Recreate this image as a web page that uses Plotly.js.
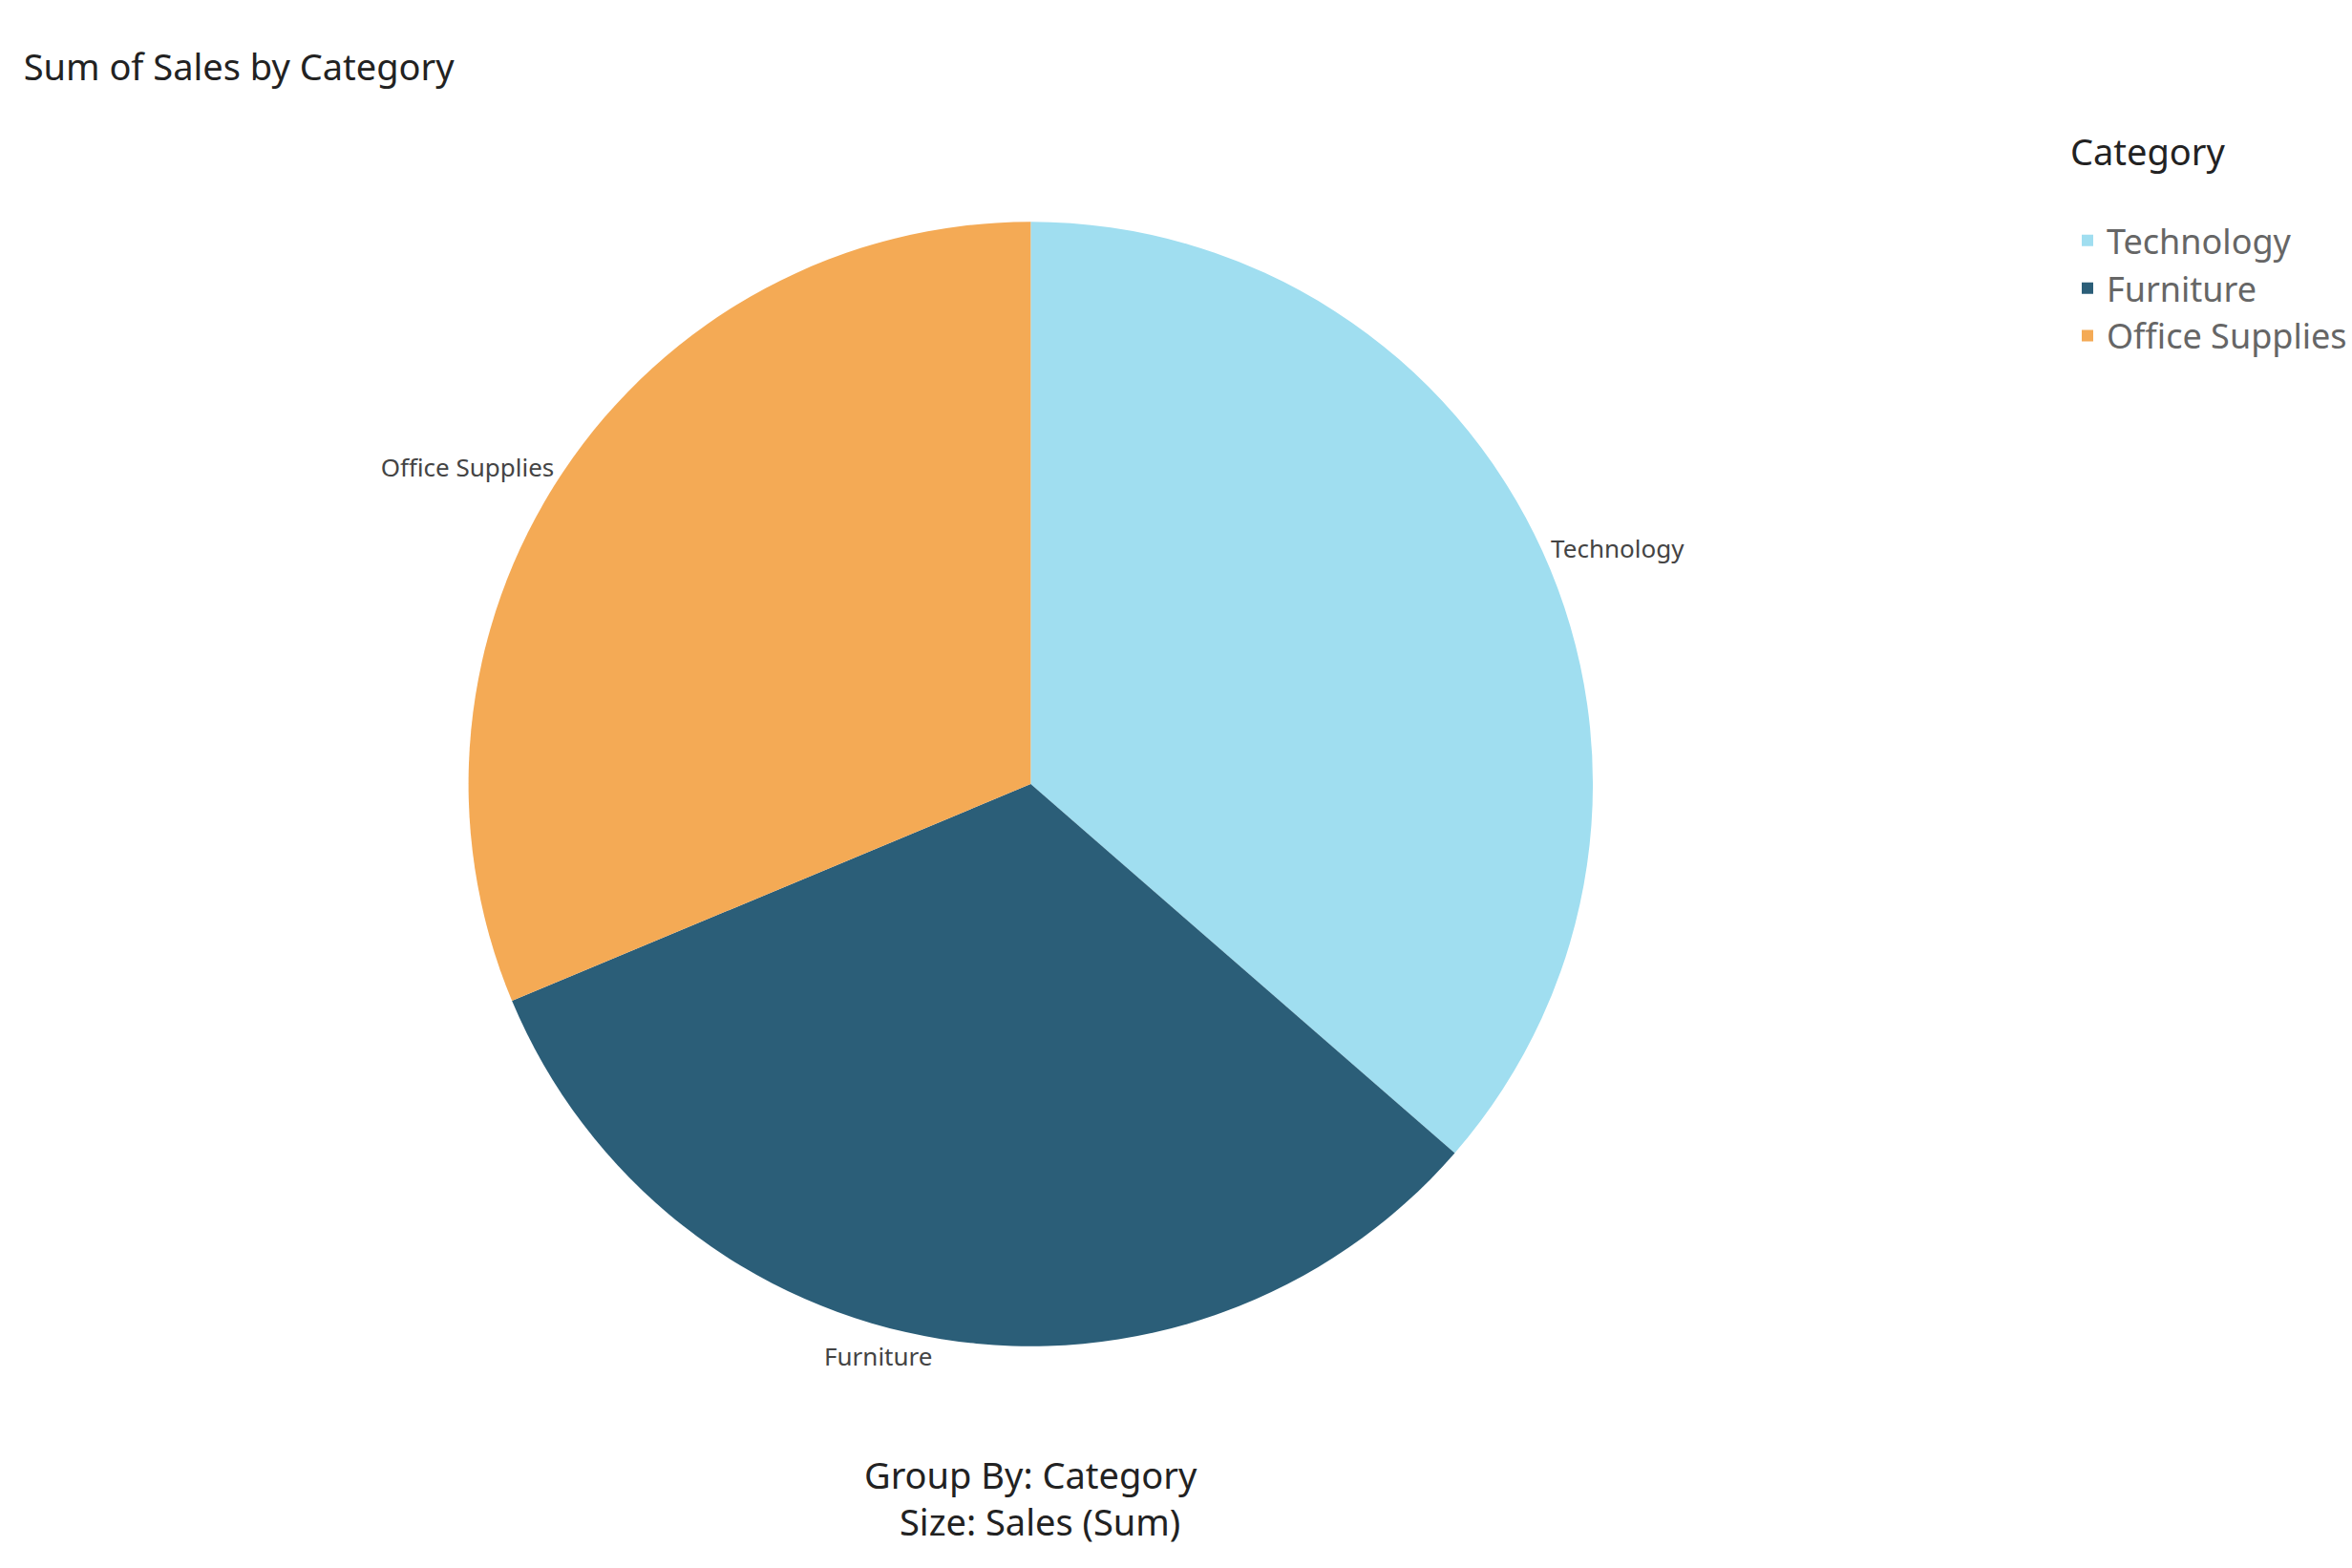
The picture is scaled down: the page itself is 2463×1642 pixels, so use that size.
<!DOCTYPE html>
<html><head><meta charset="utf-8">
<script src="https://cdn.plot.ly/plotly-3.0.1.min.js"></script>
<style>html,body{margin:0;padding:0;background:#fff}</style>
</head><body>
<div id="chart" style="width:2463px;height:1642px"></div>
<script>
const categories = ["Technology", "Furniture", "Office Supplies"];
const sales = [836154, 741999, 719047];
const colors = ["#a0def0", "#2b5e78", "#f4aa55"];

Plotly.newPlot("chart", [{
  type: "pie",
  labels: categories,
  values: sales,
  sort: false,
  direction: "clockwise",
  rotation: 0,
  marker: {colors: colors},
  textinfo: "label",
  textposition: "outside",
  outsidetextfont: {size: 26, color: "#444", family: "Noto Sans"},
  hoverinfo: "label+value",
  domain: {x: [0.20, 0.68], y: [0.14, 0.86]},
  automargin: false
}], {
  width: 2463, height: 1642,
  margin: {l: 0, r: 0, t: 0, b: 0},
  paper_bgcolor: "#fff",
  font: {family: "Noto Sans", color: "#222"},
  title: {text: "Sum of Sales by Category", x: 0.01, xanchor: "left", y: 0.957, yanchor: "middle",
          font: {size: 38, color: "#222"}},
  showlegend: true,
  legend: {x: 0.883, xanchor: "left", y: 0.925, yanchor: "top",
           title: {text: "Category<br> ", font: {size: 38, color: "#222"}},
           font: {size: 36, color: "#666"}, itemwidth: 30, tracegroupgap: 20},
  annotations: [{
    text: "Group By: Category<br>  Size: Sales (Sum)", showarrow: false,
    x: 0.44, xref: "paper", y: 0.045, yref: "paper", yanchor: "middle",
    font: {size: 38, color: "#222"}
  }]
}, {displayModeBar: false});
</script>
</body></html>
